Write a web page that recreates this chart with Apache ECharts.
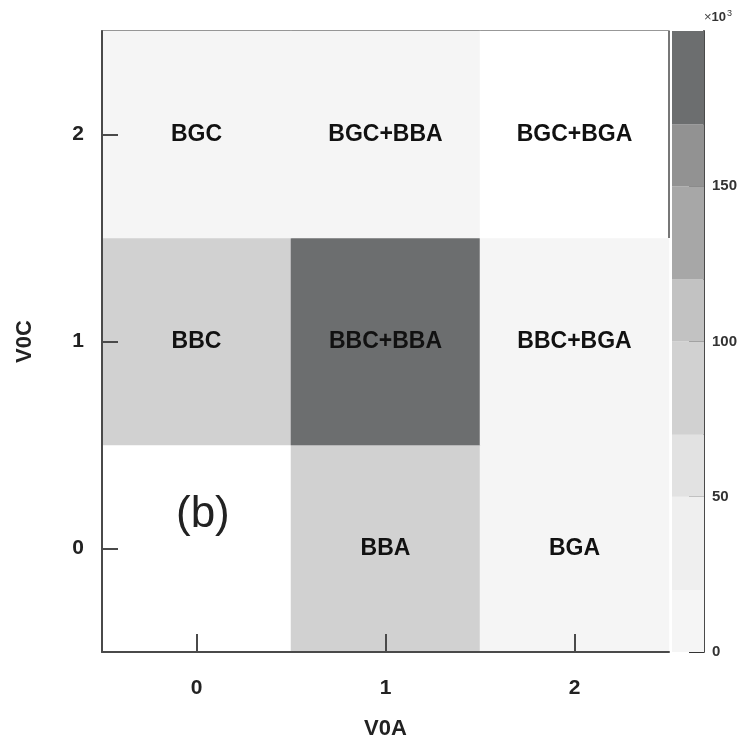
<!DOCTYPE html>
<html>
<head>
<meta charset="utf-8">
<script src="https://cdn.jsdelivr.net/npm/echarts@6/dist/echarts.min.js"></script>
<style>html,body{margin:0;padding:0;background:#fff;}#c{width:743px;height:746px;}</style>
</head>
<body>
<div id="c"></div>
<script>
// ---- data ----
const v0aCategories = ['0', '1', '2'];
const v0cCategories = ['0', '1', '2'];
// [V0A index, V0C index, counts (x10^3)]
const cellCounts = [
  [0, 0, 0], [1, 0, 88], [2, 0, 15],
  [0, 1, 90], [1, 1, 185], [2, 1, 12],
  [0, 2, 8], [1, 2, 10], [2, 2, 0]
];
const cellNames = ['', 'BBA', 'BGA', 'BBC', 'BBC+BBA', 'BBC+BGA', 'BGC', 'BGC+BBA', 'BGC+BGA'];
const levelEdges = [0, 20, 50, 70, 100, 120, 150, 170, 200];
const levelColors = ['#f5f5f5', '#efefef', '#e2e2e2', '#d1d1d1', '#c2c2c2', '#a7a7a7', '#929292', '#6c6e6f'];
const colorbarTicks = [0, 50, 100, 150];
// empty top-right cell whose right frame edge stays visible
const frameEdgeCells = [[2, 2]];

// ---- build ----
const pieces = [{ min: 0, max: 0, color: '#ffffff' }];
for (let i = 0; i < levelColors.length; i++) {
  pieces.push({ gt: levelEdges[i], lte: levelEdges[i + 1], color: levelColors[i] });
}
const heatData = cellCounts.map((d, i) => ({ value: d, label: { formatter: cellNames[i] } }));
const barSeries = levelColors.map((c, i) => ({
  type: 'bar', xAxisIndex: 2, yAxisIndex: 2, stack: 'cb', barWidth: '100%',
  data: [levelEdges[i + 1] - levelEdges[i]], itemStyle: { color: c }, silent: true
}));

const axisCol = '#4a4a4a';
const chart = echarts.init(document.getElementById('c'));
chart.setOption({
  backgroundColor: '#ffffff',
  animation: false,
  textStyle: { fontFamily: 'Liberation Sans' },
  grid: [
    { left: 102, right: 74, top: 31, bottom: 94 },
    { left: 672, right: 39, top: 31, bottom: 94 }
  ],
  xAxis: [
    {
      type: 'category', gridIndex: 0, data: v0aCategories, position: 'bottom',
      axisLine: { lineStyle: { color: axisCol, width: 2 } },
      axisTick: { show: true, inside: true, alignWithLabel: true, length: 18, lineStyle: { color: axisCol, width: 2 } },
      axisLabel: { fontSize: 21, fontWeight: 'bold', color: '#222', margin: 26 },
      name: 'V0A', nameLocation: 'middle', nameGap: 66,
      nameTextStyle: { fontSize: 22, fontWeight: 'bold', color: '#222' },
      splitLine: { show: false }, z: 10
    },
    {
      type: 'category', gridIndex: 0, data: v0aCategories, position: 'top',
      axisLine: { lineStyle: { color: axisCol, width: 1.5 } },
      axisTick: { show: false }, axisLabel: { show: false }, splitLine: { show: false }
    },
    {
      type: 'category', gridIndex: 1, data: ['cb'], show: false
    }
  ],
  yAxis: [
    {
      type: 'category', gridIndex: 0, data: v0cCategories,
      axisLine: { lineStyle: { color: axisCol, width: 2 } },
      axisTick: { show: true, inside: true, alignWithLabel: true, length: 16, lineStyle: { color: axisCol, width: 2 } },
      axisLabel: { fontSize: 21, fontWeight: 'bold', color: '#222', margin: 18 },
      name: 'V0C', nameLocation: 'middle', nameGap: 66, nameRotate: 90,
      nameTextStyle: { fontSize: 22, fontWeight: 'bold', color: '#222' },
      splitLine: { show: false }, z: 10
    },
    {
      type: 'category', gridIndex: 0, data: v0cCategories, show: false
    },
    {
      type: 'value', gridIndex: 1, position: 'right', min: 0, max: 200, interval: 50,
      axisLine: { show: true, lineStyle: { color: axisCol, width: 2 } },
      axisTick: { show: true, inside: true, length: 15, lineStyle: { color: '#333', width: 2 } },
      axisLabel: {
        fontSize: 15, fontWeight: 'bold', color: '#333', margin: 8, showMaxLabel: false,
        formatter: v => (colorbarTicks.indexOf(v) >= 0 ? String(v) : '')
      },
      splitLine: { show: false },
      name: '{x|×}{n|10}{s|3}', nameLocation: 'end', nameGap: 7,
      nameTextStyle: {
        align: 'left', padding: [0, 0, 0, 0],
        rich: {
          x: { fontSize: 13, color: '#444', verticalAlign: 'bottom' },
          n: { fontSize: 13, fontWeight: 'bold', color: '#333', verticalAlign: 'bottom' },
          s: { fontSize: 9, color: '#333', verticalAlign: 'top', padding: [0, 0, 6, 1] }
        }
      }
    }
  ],
  visualMap: {
    type: 'piecewise', show: false, seriesIndex: 0, dimension: 2, pieces: pieces
  },
  series: [
    {
      type: 'heatmap', xAxisIndex: 0, yAxisIndex: 0, data: heatData,
      label: { show: true, fontSize: 23, fontWeight: 'bold', color: '#111' },
      itemStyle: { borderWidth: 0 }, silent: true
    },
    {
      type: 'custom', xAxisIndex: 0, yAxisIndex: 0, data: frameEdgeCells, silent: true, z: 5,
      renderItem: function (params, api) {
        const c = api.coord([api.value(0), api.value(1)]);
        const s = api.size([1, 1]);
        const x = c[0] + s[0] / 2;
        return {
          type: 'line',
          shape: { x1: x, y1: c[1] - s[1] / 2, x2: x, y2: c[1] + s[1] / 2 },
          style: { stroke: axisCol, lineWidth: 1.5 }
        };
      }
    }
  ].concat(barSeries),
  graphic: [
    {
      type: 'text', left: 176, top: 493, z: 100,
      style: { text: '(b)', fontSize: 44, fill: '#222', fontFamily: 'Liberation Sans' }
    }
  ]
});
</script>
</body>
</html>
